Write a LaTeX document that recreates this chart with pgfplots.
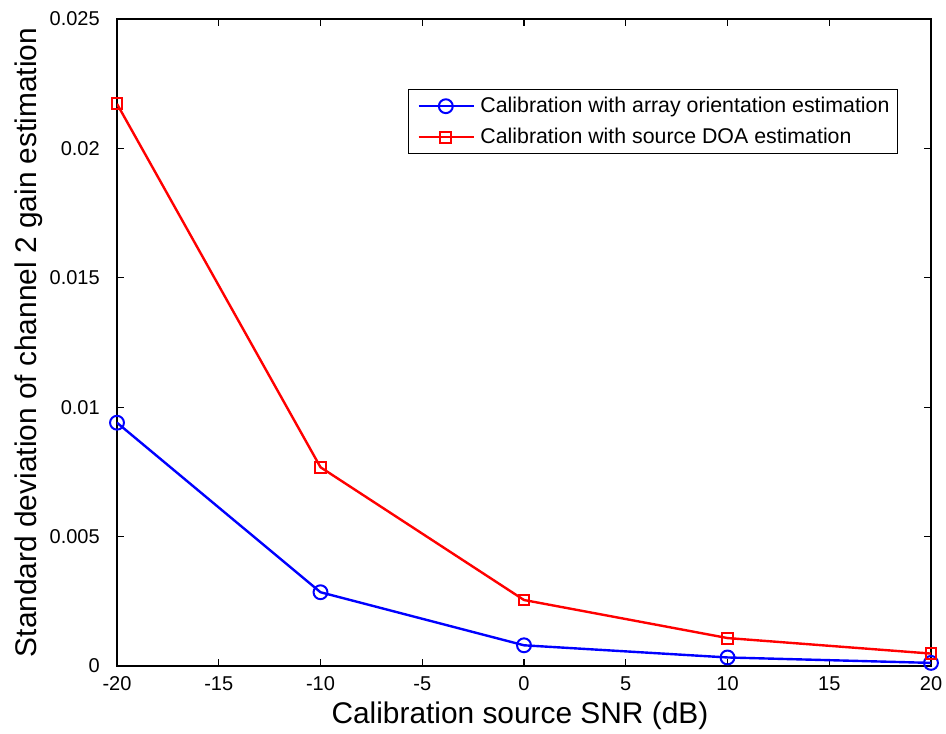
\documentclass[border=0pt]{standalone}
\usepackage{pgfplots}
\pgfplotsset{compat=1.18}
\usepackage{fontspec}
\setmainfont{Liberation Sans}
\begin{document}
\begin{tikzpicture}
\begin{axis}[
  name=ax,
  scale only axis,
  width=610.5pt, height=485.25pt,
  xmin=-20, xmax=20, ymin=0, ymax=0.025,
  xtick={-20,-15,...,20},
  ytick={0,0.005,0.01,0.015,0.02,0.025},
  yticklabels={0,0.005,0.01,0.015,0.02,0.025},
  scaled y ticks=false,
  tick align=inside,
  major tick length=5pt,
  tick style={black, line width=0.8pt},
  axis line style={black, line width=0.8pt},
  /pgf/number format/assume math mode=true,
  tick label style={font=\fontsize{15}{18}\selectfont},
  xticklabel style={anchor=base, inner sep=0pt, yshift=-18pt},
  yticklabel style={anchor=east, inner sep=0pt, xshift=-12.75pt},
  xlabel={Calibration source SNR (dB)},
  ylabel={Standard deviation of channel 2 gain estimation},
  every axis x label/.style={at={(axis description cs:0.495,-0.0881)}, anchor=base, font=\fontsize{22.4}{26}\selectfont},
  every axis y label/.style={at={(axis description cs:-0.0983,0.5)}, anchor=base, rotate=90, font=\fontsize{22.4}{26}\selectfont},
  legend style={at={(0.9595,0.8918)}, anchor=north east, font=\fontsize{16}{19}\selectfont, draw=black, line width=0.8pt, row sep=4.25pt, inner xsep=4pt, inner ysep=3pt, nodes={inner sep=2pt, text height=12pt, text depth=3pt}},
  legend cell align=left,
  legend image code/.code={\path (-0.1cm,0cm) (1.53cm,0cm); \draw[mark repeat=2,mark phase=2,#1] plot coordinates {(0cm,0cm) (0.72cm,0cm) (1.45cm,0cm)};},
]
\addplot[blue, line width=1.8pt, mark=o, mark size=5.2pt, mark options={line width=1.5pt}] coordinates {
(-20,0.00940) (-10,0.00285) (0,0.00080) (10,0.00033) (20,0.00012)};
\addlegendentry{Calibration with array orientation estimation}
\addplot[red, line width=1.8pt, mark=square, mark size=4.1pt, mark options={line width=1.5pt}] coordinates {
(-20,0.02172) (-10,0.00768) (0,0.00255) (10,0.00108) (20,0.00048)};
\addlegendentry{Calibration with source DOA estimation}
\end{axis}
\path (ax.south west) ++(-87.75pt,-48.75pt) rectangle ++(709.5pt,548.25pt);
\end{tikzpicture}
\end{document}
